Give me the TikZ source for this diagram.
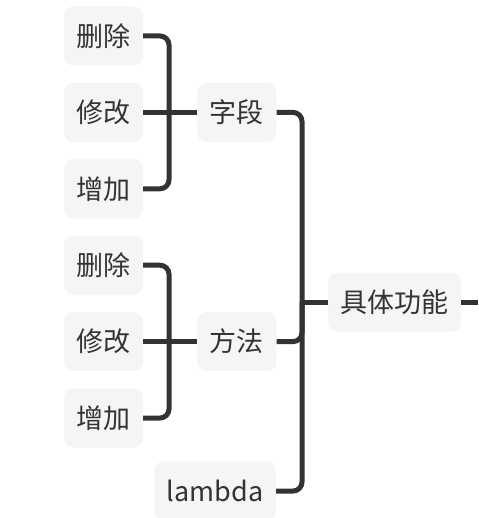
\documentclass[tikz,border=0pt]{standalone}
\usepackage{fontspec}
\setmainfont{Noto Sans CJK SC}
\usepackage{tikz}
\usetikzlibrary{positioning}
\definecolor{ink}{HTML}{333333}
\definecolor{boxfill}{HTML}{F5F5F5}
\tikzset{
  mmbox/.style={rectangle,rounded corners=9pt,fill=boxfill,text=ink,
    font=\fontsize{27}{32}\selectfont,minimum height=59pt,
    inner xsep=12.5pt,inner ysep=0pt},
  mmline/.style={line width=5pt,color=ink,rounded corners=9pt},
}
\begin{document}
\begin{tikzpicture}[x=1pt,y=1pt,node distance=17pt and 54pt]
  \useasboundingbox (0,0) rectangle (478,-518);
  % leaves
  \node[mmbox] (fdel) at (103.5,-36) {删除};
  \node[mmbox, below=of fdel] (fmod) {修改};
  \node[mmbox, below=of fmod] (fadd) {增加};
  \node[mmbox, below=of fadd] (mdel) {删除};
  \node[mmbox, below=of mdel] (mmod) {修改};
  \node[mmbox, below=of mmod] (madd) {增加};
  % branches
  \node[mmbox, right=of fmod] (field) {字段};
  \node[mmbox, right=of mmod] (method) {方法};
  \node[mmbox, anchor=east] (lam) at (276,-491) {lambda};
  \node[mmbox, anchor=west] (func) at (328,-302) {具体功能};
  % joints
  \coordinate (fjoint) at (169,-112);
  \coordinate (mjoint) at (169,-340);
  \coordinate (trunk) at (302,-302);
  \coordinate (tail) at (478,-302);
  \draw[mmline] (fdel.east) -| (fjoint) |- (fadd.east);
  \draw[mmline] (field.west) -- (fmod.east);
  \draw[mmline] (mdel.east) -| (mjoint) |- (madd.east);
  \draw[mmline] (method.west) -- (mmod.east);
  \draw[mmline] (field.east) -| (trunk) |- (lam.east);
  \draw[mmline] (method.east) -| (trunk);
  \draw[mmline] (func.west) -- (trunk);
  \draw[mmline] (func.east) -- (tail);
\end{tikzpicture}
\end{document}
